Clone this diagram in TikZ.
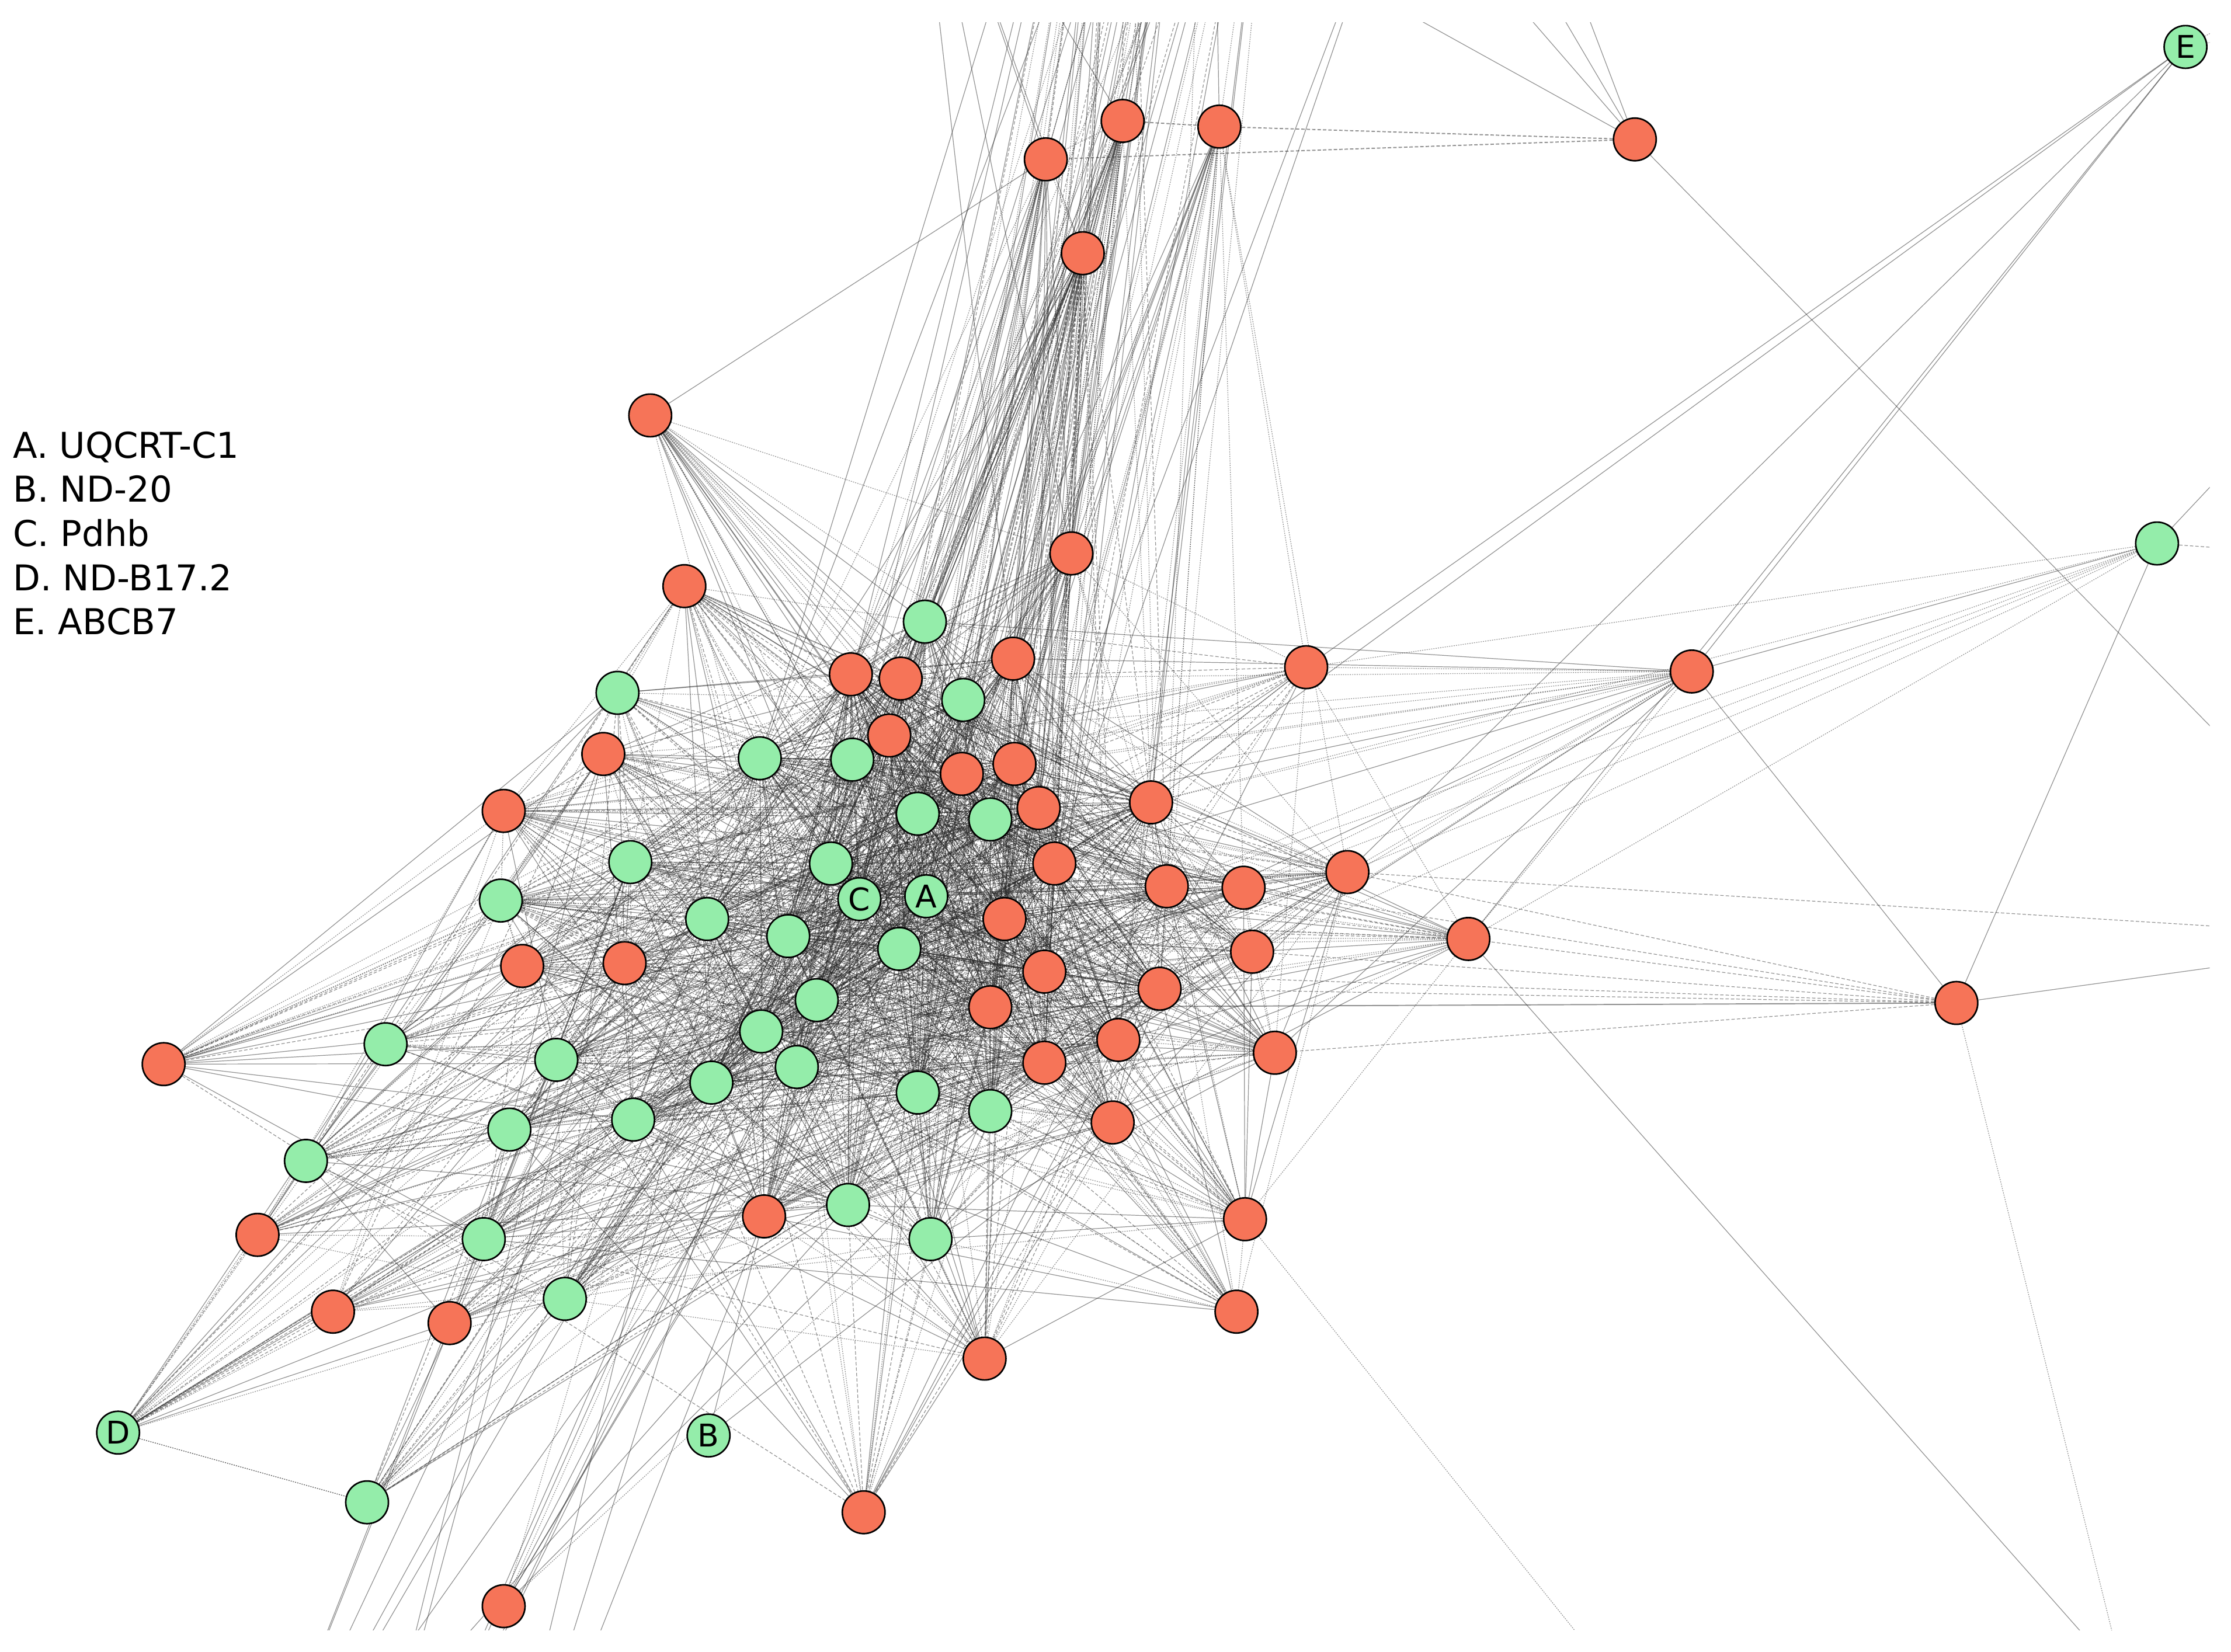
\documentclass[tikz,border=0pt]{standalone}
\usepackage{fontspec}
\setmainfont{DejaVu Sans}
\definecolor{nred}{RGB}{246,116,88}
\definecolor{ngreen}{RGB}{148,237,170}
\pgfdeclarelayer{edgelayer}
\pgfsetlayers{edgelayer,main}
\tikzset{
  nodebase/.style={circle, draw=black, line width=1.1pt, minimum size=30pt, inner sep=0pt, font=\fontsize{22}{22}\selectfont},
  lnk/.style={draw=black!85, draw opacity=0.5, line width=0.5pt},
  lnkdash/.style={lnk, dash pattern=on 2.4pt off 1.4pt},
  lnkdot/.style={lnk, dash pattern=on 0.8pt off 0.8pt},
  legendtxt/.style={anchor=base west, font=\fontsize{25}{25}\selectfont, inner sep=0pt},
}
\def\edgebase{1.0}
\begin{document}
\begin{tikzpicture}[x=1pt,y=1pt]
\path[use as bounding box] (0,-1161) rectangle (1568,0);
% ---------- nodes ----------
\foreach \i/\x/\y/\c/\w/\t/\l in {
1/735/112/nred/0/0/{},
2/789/85/nred/0/0/{},
3/857/89/nred/0/0/{},
4/1149/98/nred/0/0/{},
5/761/178/nred/0/0/{},
6/1536/33/ngreen/0/0/E,
7/457/292/nred/0/0/{},
8/753/389/nred/0/0/{},
9/1516/382/ngreen/0/0/{},
10/481/412/nred/0.7/0/{},
11/650/437/ngreen/0.85/1/{},
12/712/463/nred/0.9/1/{},
13/598/474/nred/0.9/1/{},
14/633/477/nred/0.9/1/{},
15/677/492/ngreen/0.9/1/{},
16/918/469/nred/0.6/0/{},
17/1189/472/nred/0/0/{},
18/434/487/ngreen/0.7/0/{},
19/625/517/nred/1/1/{},
20/424/530/nred/0.75/0/{},
21/534/533/ngreen/0.9/1/{},
22/599/534/ngreen/1/1/{},
23/676/544/nred/1/1/{},
24/713/537/nred/1/1/{},
25/354/570/nred/0.75/0/{},
26/645/572/ngreen/1/1/{},
27/696/576/ngreen/1/1/{},
28/730/568/nred/1/1/{},
29/809/564/nred/0.9/1/{},
30/443/606/ngreen/0.85/0/{},
31/584/607/ngreen/1/1/{},
32/741/607/nred/1/1/{},
33/947/613/nred/0.75/0/{},
34/352/633/ngreen/0.75/0/{},
35/604/632/ngreen/1/1/C,
36/651/630/ngreen/1/1/A,
37/820/623/nred/0.9/1/{},
38/874/624/nred/0.8/0/{},
39/1032/660/nred/0.7/0/{},
40/706/646/nred/1/1/{},
41/497/646/ngreen/0.9/0/{},
42/554/658/ngreen/1/1/{},
43/632/667/ngreen/1/1/{},
44/880/669/nred/0.8/0/{},
45/367/679/nred/0.75/0/{},
46/439/677/nred/0.85/0/{},
47/734/683/nred/1/1/{},
48/815/695/nred/0.9/1/{},
49/1375/705/nred/0/0/{},
50/574/703/ngreen/1/1/{},
51/696/708/nred/1/1/{},
52/535/725/ngreen/1/0/{},
53/271/734/ngreen/0.65/0/{},
54/115/748/nred/0.8/0/{},
55/391/745/ngreen/0.8/0/{},
56/786/731/nred/0.9/1/{},
57/896/740/nred/0.75/0/{},
58/734/747/nred/1/1/{},
59/560/750/ngreen/1/0/{},
60/500/761/ngreen/0.95/0/{},
61/645/768/ngreen/0.95/1/{},
62/696/781/ngreen/0.9/1/{},
63/445/787/ngreen/0.85/0/{},
64/358/794/ngreen/0.75/0/{},
65/782/789/nred/0.85/0/{},
66/215/816/ngreen/0.7/0/{},
67/596/847/ngreen/0.8/0/{},
68/537/855/nred/0.8/0/{},
69/875/857/nred/0.7/0/{},
70/654/871/ngreen/0.8/0/{},
71/340/871/ngreen/0.7/0/{},
72/181/868/nred/0.7/0/{},
73/397/913/ngreen/0.7/0/{},
74/234/922/nred/0.6/0/{},
75/316/930/nred/0.65/0/{},
76/869/922/nred/0.6/0/{},
77/692/955/nred/0.65/0/{},
78/83/1007/ngreen/0.75/0/D,
79/498/1009/ngreen/0/0/B,
80/258/1056/ngreen/0.55/0/{},
81/607/1063/nred/0.55/0/{},
82/354/1129/nred/0.5/0/{}}{
  \node[nodebase, fill=\c] (n\i) at (\x,-\y) {\l};
  \expandafter\xdef\csname nw\i\endcsname{\w}
  \expandafter\xdef\csname nt\i\endcsname{\t}
  \expandafter\xdef\csname nx\i\endcsname{\x}
  \expandafter\xdef\csname ny\i\endcsname{\y}
}
% ---------- legend ----------
\node[legendtxt] (legA) at (9,-322) {A. UQCRT-C1};
\node[legendtxt] (legB) at (9,-353) {B. ND-20};
\node[legendtxt] (legC) at (9,-384) {C. Pdhb};
\node[legendtxt] (legD) at (9,-415) {D. ND-B17.2};
\node[legendtxt] (legE) at (9,-446) {E. ABCB7};
% ---------- off-picture ends ----------
\coordinate (tA) at (640,160);
\coordinate (tB) at (790,300);
\coordinate (tC) at (850,300);
\coordinate (tD) at (905,250);
\coordinate (tE) at (990,120);
\coordinate (trA) at (1012,60);
\coordinate (trB) at (1056,60);
\coordinate (trC) at (1089,60);
\coordinate (trD) at (900,40);
\coordinate (eoA) at (1650,30);
\coordinate (eoB) at (1660,-10);
\coordinate (groA) at (1700,-395);
\coordinate (groB) at (1640,-250);
\coordinate (ofr) at (1700,-660);
\coordinate (obrA) at (1550,-1246);
\coordinate (obrB) at (1150,-1200);
\coordinate (obrC) at (1500,-1210);
\coordinate (blA) at (150,-1350);
\coordinate (blB) at (230,-1400);
\coordinate (blC) at (330,-1380);
% ---------- edges ----------
\begin{pgfonlayer}{edgelayer}
\begin{scope}
\clip (0,-16) rectangle (1553,-1146);
\pgfmathsetseed{2024}
\foreach \i in {1,...,82}{
  \foreach \j in {1,...,82}{
    \ifnum\j>\i\relax
      \edef\wa{\csname nw\i\endcsname}%
      \edef\wb{\csname nw\j\endcsname}%
      \ifdim\wa pt>0pt\relax\ifdim\wb pt>0pt\relax
        \edef\xa{\csname nx\i\endcsname}\edef\xb{\csname nx\j\endcsname}%
        \edef\ya{\csname ny\i\endcsname}\edef\yb{\csname ny\j\endcsname}%
        \pgfmathsetmacro\dd{veclen(\xa-\xb,\ya-\yb)/560}%
        \pgfmathsetmacro\pp{(\wa*\wb>0.4)*\edgebase*\wa*\wb/(1+\dd^4)}%
        \pgfmathsetmacro\rr{rnd}%
        \ifdim\rr pt<\pp pt\relax
          \pgfmathsetmacro\ss{rnd}%
          \ifdim\ss pt<0.42pt\relax \draw[lnk] (n\i) -- (n\j);%
          \else\ifdim\ss pt<0.7pt\relax \draw[lnkdash] (n\i) -- (n\j);%
          \else \draw[lnkdot] (n\i) -- (n\j);%
          \fi\fi
        \fi
        % second layer of parallel interactions in the dense core
        \ifdim\wa pt>0.89pt\relax\ifdim\wb pt>0.89pt\relax
          \pgfmathsetmacro\rr{rnd}%
          \ifdim\rr pt<0.55pt\relax
            \pgfmathsetmacro\ss{rnd}%
            \ifdim\ss pt<0.5pt\relax \draw[lnkdot] (n\i) -- (n\j);%
            \else \draw[lnkdash] (n\i) -- (n\j);\fi
          \fi
        \fi\fi
      \fi\fi
    \fi
  }
}
% bundle to the top from the core
\foreach \i in {1,...,82}{
  \edef\tflag{\csname nt\i\endcsname}%
  \ifnum\tflag=1\relax
    \foreach \k in {tB,tC,tD}{
      \pgfmathsetmacro\rr{rnd}%
      \ifdim\rr pt<0.6pt\relax
        \pgfmathsetmacro\ss{rnd}%
        \ifdim\ss pt<0.45pt\relax \draw[lnk] (n\i) -- (\k);%
        \else\ifdim\ss pt<0.7pt\relax \draw[lnkdash] (n\i) -- (\k);%
        \else \draw[lnkdot] (n\i) -- (\k);\fi\fi
      \fi
    }
  \fi
}
% top nodes
\foreach \j in {8,12,13,14,19,22,23,26,35,40,43,28,32}{\draw[lnk] (n1) -- (n\j);}
\foreach \j in {5,2,11,15,36,31,21}{\draw[lnkdot] (n1) -- (n\j);}
\foreach \j in {5,8,11,12,14,15,19,22,23,24,26,27,35,43}{\draw[lnk] (n2) -- (n\j);}
\foreach \j in {28,32,36,40,47,51,58,61,29,13,31,50}{\draw[lnkdot] (n2) -- (n\j);}
\draw[lnkdash, line width=0.8pt] (n2) -- (n3);
\foreach \j in {8,12,15,24,27,28,29,32,23,36}{\draw[lnk] (n3) -- (n\j);}
\foreach \j in {37,38,40,47,56,16,33,48,51,58}{\draw[lnkdot] (n3) -- (n\j);}
\foreach \j in {8,11,12,13,14,15,19,21,22,23,24,26,27,28,31,41,52,59}{\draw[lnk] (n5) -- (n\j);}
\foreach \j in {32,35,36,40,42,43,47,50,51,58,61,62,65,56,29,60,67,70}{\draw[lnkdash] (n5) -- (n\j);}
\foreach \j in {11,12,13,14,15,19,22,23,24,26,27,28,21,31}{\draw[lnk] (n8) -- (n\j);}
\foreach \j in {29,32,35,36,40,43,47,51,58,37,16,33,61,42,50}{\draw[lnkdot] (n8) -- (n\j);}
\foreach \j in {1,2,5,8,12}{\draw[lnk] (n\j) -- (tA);}
\foreach \j in {1,2,5}{\draw[lnkdash] (n\j) -- (tB);\draw[lnk] (n\j) -- (tC);}
\foreach \j in {3,8}{\draw[lnkdot] (n\j) -- (tD);\draw[lnk] (n\j) -- (tC);}
\foreach \j in {32,28}{\draw[lnk] (n\j) -- (tE);}
% bundle to bottom left
\foreach \i in {21,22,30,31,35,41,42,43,50,52,55,59,60,63,67,68}{
  \foreach \k in {blA,blB,blC}{
    \pgfmathsetmacro\rr{rnd}%
    \ifdim\rr pt<0.3pt\relax \draw[lnk] (n\i) -- (\k);\fi
  }
}
\draw[lnkdot] (n78) -- (n80);
% R6 fan
\draw[lnk] (n7) -- (n1);
\draw[lnkdot] (n7) -- (n8);
\foreach \j in {11,13,15,19,23,26,28,35,40,47,31,51}{\draw[lnk] (n7) -- (n\j);}
\foreach \j in {12,14,22,24,27,32,36,43,42}{\draw[lnkdot] (n7) -- (n\j);}
% right side
\foreach \j in {17,33,39,16,29}{\draw[lnk] (n6) -- (n\j);}
\draw[lnkdot] (n6) -- (eoA);
\draw[lnkdot] (n6) -- (eoB);
\foreach \j in {33,39,16,44,38,29,37}{\draw[lnkdot] (n9) -- (n\j);}
\draw[lnk] (n9) -- (n17);
\draw[lnk] (n9) -- (n49);
\draw[lnkdash] (n9) -- (groA);
\draw[lnk] (n9) -- (groB);
\foreach \j in {33,39,38,16,44,48,29,23,37,24,19,22,14,26}{\draw[lnkdot] (n17) -- (n\j);}
\foreach \j in {57,28,32,12,47,56,49,11}{\draw[lnk] (n17) -- (n\j);}
\foreach \j in {39,44,48,38,57,33,47}{\draw[lnkdash] (n49) -- (n\j);}
\draw[lnk, line width=0.8pt] (n49) -- (n51);
\draw[lnk] (n49) -- (ofr);
\draw[lnkdot] (n49) -- (obrC);
\draw[lnk] (n4) -- (ofr);
\draw[lnkdash] (n33) -- (ofr);
\draw[lnkdash, line width=0.8pt] (n4) -- (n1);
\draw[lnkdash, line width=0.8pt] (n4) -- (n3);
\foreach \k in {trA,trB,trC,trD}{\draw[lnk] (n4) -- (\k);}
\draw[lnk] (n39) -- (obrA);
\draw[lnkdot] (n69) -- (obrB);
% B
\draw[lnk] (n79) -- (n68);
\draw[lnk] (n79) -- (n65);
\end{scope}
\end{pgfonlayer}
\end{tikzpicture}
\end{document}
